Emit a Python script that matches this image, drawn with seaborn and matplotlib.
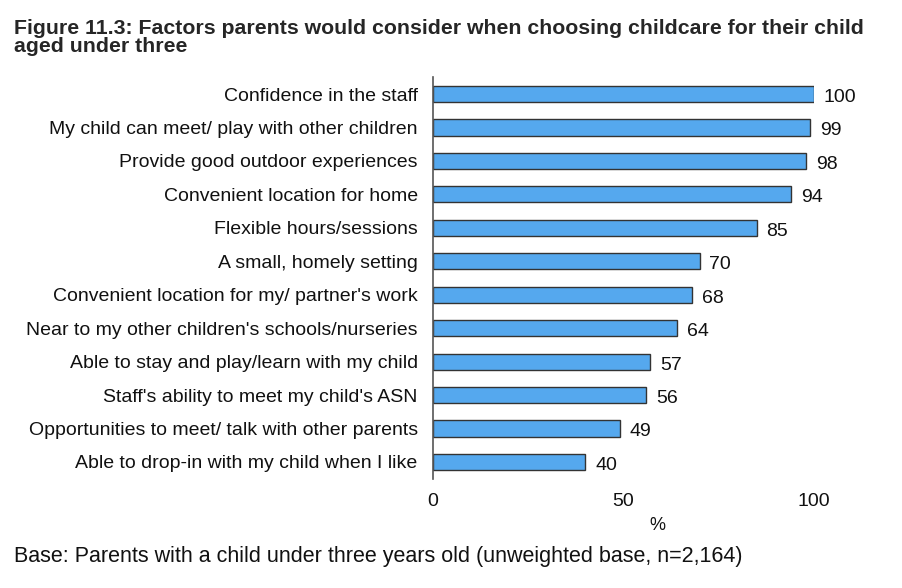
import pandas as pd
import matplotlib
matplotlib.use("Agg")
import matplotlib.pyplot as plt
import seaborn as sns

factors = [
    "Confidence in the staff",
    "My child can meet/ play with other children",
    "Provide good outdoor experiences",
    "Convenient location for home",
    "Flexible hours/sessions",
    "A small, homely setting",
    "Convenient location for my/ partner's work",
    "Near to my other children's schools/nurseries",
    "Able to stay and play/learn with my child",
    "Staff's ability to meet my child's ASN",
    "Opportunities to meet/ talk with other parents",
    "Able to drop-in with my child when I like",
]
percent = [100, 99, 98, 94, 85, 70, 68, 64, 57, 56, 49, 40]
x_ticks = [0, 50, 100]

df = pd.DataFrame({"factor": factors, "percent": percent})

sns.set_style("white")
plt.rcParams["font.family"] = ["Liberation Sans", "DejaVu Sans"]

fig = plt.figure(figsize=(9.03, 5.88), dpi=100)
ax = fig.add_axes([0.4795, 0.1859, 0.422, 0.6826])

sns.barplot(data=df, x="percent", y="factor", color="#55A8EE", saturation=1,
            edgecolor="#333333", linewidth=1, width=0.48, ax=ax)

for container in ax.containers:
    labels = ax.bar_label(container, fmt="%.0f", padding=7, fontsize=14, color="#111111")
    for t in labels:
        # sit the numbers a little lower, like the original
        t.xyann = (7, -2.5)

ax.set_xlim(0, 100)
ax.set_ylim(11.5, -0.5)
ax.set_xticks(x_ticks)
ax.tick_params(axis="x", length=0, pad=10, labelsize=14, colors="#111111")
ax.tick_params(axis="y", length=0, pad=11, labelsize=14, colors="#111111")
for s in ["top", "right", "bottom"]:
    ax.spines[s].set_visible(False)
ax.spines["left"].set_color("#555555")
ax.spines["left"].set_linewidth(1.2)
ax.set_ylabel("")
ax.set_xlabel("%", fontsize=13, color="#111111")
ax.xaxis.set_label_coords(0.59, -0.095)

fig.text(0.0155, 0.967, "Figure 11.3: Factors parents would consider when choosing childcare for their child\naged under three",
         fontsize=15.3, fontweight="bold", va="top", ha="left", linespacing=0.92)
fig.text(0.0155, 0.053, "Base: Parents with a child under three years old (unweighted base, n=2,164)",
         fontsize=15.5, va="center", ha="left", color="#111111")

fig.savefig("out.png", dpi=100)
